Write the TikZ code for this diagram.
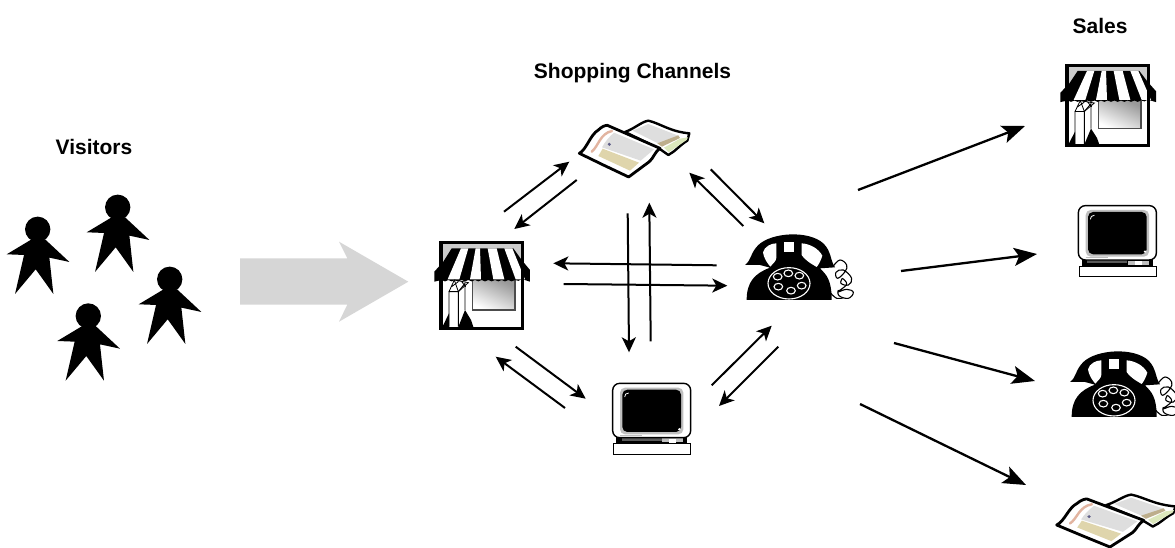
\documentclass[tikz,border=0pt]{standalone}
\usepackage{fontspec}
\setmainfont{Liberation Sans}
\usetikzlibrary{arrows.meta}
\definecolor{arrowgray}{HTML}{D6D6D6}
\definecolor{salmon}{HTML}{E2B4A0}
\definecolor{pagegray}{HTML}{DEDEDE}
\definecolor{tan}{HTML}{DFD5AC}
\definecolor{leaf}{HTML}{DCE8BC}
\definecolor{olive}{HTML}{BDAE8C}
\tikzset{
  hub/.style={line width=2pt,-{Stealth[length=15pt,width=14pt,inset=4pt]}},
  salesarrow/.style={line width=2.3pt,-{Stealth[length=23pt,width=18pt,inset=5pt]}},
  heading/.style={font=\bfseries\fontsize{21}{24}\selectfont,inner sep=0pt},
  personicon/.pic={
    \begin{scope}[x=.3333pt,y=-.3333pt]
      \fill[black] (0,0) circle[radius=38];
      \fill[black] (-93,75)--(-18,30)--(22,30)--(95,98)--(35,85)--(47,194)--(-6,120)--(-68,194)--(-41,77)--cycle;
    \end{scope}},
  storeicon/.pic={
    \begin{scope}[x=.3333pt,y=-.3333pt]
      \fill[white] (48,38) rectangle (292,295);
      \fill[black!20] (52,42) rectangle (288,120);
      \fill[white] (52,150) rectangle (288,291);
      \shade[top color=black!40,bottom color=white,shading angle=-25] (143,150) rectangle (270,240);
      \draw[black!70,line width=1.1pt] (143,150) -- (143,240) -- (270,240) -- (270,150);
      % awning base
      \fill[black] (80,55)--(265,55)--(290,90)--(315,120)--(315,155)--(290,147)
        \foreach \x in {270,250,230,210,190,170,150,130,110,90,70,50}{ to[bend left=45] (\x,150)} --(28,155)--(28,125)--(55,95)--cycle;
      % white stripes
      \foreach \a/\b/\c/\d in {108/130/68/103, 152/165/135/168, 188/215/205/238, 238/262/272/300}{
        \fill[white] (\a,55)--(\b,55)--(\d,148)--(\c,148)--cycle;
      }
      % bag
      \fill[white] (72,185)--(100,185)--(122,165)--(122,265)--(100,290)--(72,290)--cycle;
      \draw[black,line width=.9pt] (72,290)--(72,185)--(100,185)--(100,290) (100,185)--(120,160)--(120,240);
      \draw[black,line width=.8pt] (72,185)--(88,150)--(130,158)--(100,185) (88,150)--(100,185) (100,155)--(80,170) (110,155)--(122,170);
      \fill[black] (52,291)--(72,250)--(72,291)--cycle;
      \fill[black] (100,291)--(120,240)--(138,270)--(145,291)--cycle;
      \draw[black,line width=3.2pt] (48,38) rectangle (292,295);
    \end{scope}},
  phoneicon/.pic={
    \begin{scope}[x=.3333pt,y=-.3333pt]
      % cord
      \draw[black,line width=1.1pt] plot[smooth,tension=.7] coordinates {(296,122) (315,105) (335,120) (330,140) (308,160) (303,142) (325,135) (350,160) (340,180) (318,175) (322,160)};
      \draw[black,line width=1.1pt] plot[smooth,tension=.7] coordinates {(322,160) (335,178) (310,200) (335,193) (355,202) (340,220) (312,212) (310,195)};
      \draw[black,line width=1.1pt] plot[smooth,tension=.7] coordinates {(325,218) (305,220) (285,202)};
      % handset
      \fill[black] (30,120) .. controls (50,105) and (45,85) .. (70,60) .. controls (110,22) and (220,15) .. (265,55)
        .. controls (290,80) and (285,105) .. (300,127) -- (255,130) .. controls (275,150) and (290,165) .. (290,225)
        -- (35,225) .. controls (35,170) and (60,145) .. (105,128) -- (75,120) --cycle;
      \fill[white] (124,55) .. controls (108,55) and (88,65) .. (84,82) .. controls (87,100) and (95,112) .. (106,125) .. controls (114,115) and (124,108) .. (124,98) --cycle;
      \fill[white] (200,55) .. controls (225,57) and (250,70) .. (262,92) .. controls (258,105) and (252,118) .. (245,126) .. controls (225,115) and (205,100) .. (200,90)--cycle;
      \fill[white] (147,50) rectangle (178,80);
      % dial
      \draw[white,line width=1.1pt] (162,175) ellipse[x radius=63,y radius=47];
      \foreach \x/\y in {128/155,160/145,193/152,200/182,168/197,130/185}
        \draw[white,line width=1.1pt] (\x,\y) ellipse[x radius=13,y radius=10];
    \end{scope}},
  computericon/.pic={
    \begin{scope}[x=.3333pt,y=-.3333pt]
      \fill[black] (48,180) rectangle (262,205);
      \fill[black!65] (65,187) rectangle (185,198);
      \fill[black!25] (187,190) rectangle (250,202);
      \fill[white] (207,191) rectangle (228,203);
      \draw[black,line width=1.4pt,fill=white,rounded corners=7pt] (38,25) rectangle (272,188);
      \fill[black!25,rounded corners=5pt] (60,38) rectangle (250,178);
      \fill[black,rounded corners=5pt] (67,44) rectangle (243,171);
      \draw[white,line width=.8pt] (74,66) .. controls (74,58) and (78,55) .. (86,54);
      \fill[white] (238,163) circle[radius=4];
      \draw[black!25,line width=.8pt] (60,180) -- (127,180);
      \draw[black,line width=1pt,fill=white] (40,207) rectangle (273,238);
    \end{scope}},
  catalogicon/.pic={
    \begin{scope}[x=.3333pt,y=-.3333pt]
      % right page
      \draw[black,line width=2.4pt,fill=white,line join=round] (165,66) .. controls (195,55) and (215,35) .. (235,32) .. controls (270,40) and (300,65) .. (358,70) -- (352,92) .. controls (330,105) and (315,125) .. (295,135) -- (268,116) --cycle;
      \fill[pagegray] (188,62)--(235,42)--(327,78)--(270,103)--cycle;
      \fill[olive] (262,100)--(325,76)--(330,84)--(276,110)--cycle;
      \fill[leaf] (282,113)--(330,86)--(354,82)--(350,90)--(296,127)--cycle;
      % left page
      \draw[black,line width=2.8pt,fill=white,line join=round] (28,130) .. controls (50,118) and (60,75) .. (85,60) .. controls (95,50) and (105,46) .. (112,46) -- (270,115) .. controls (255,125) and (250,145) .. (238,155) -- (176,201) -- (100,165) --cycle;
      \fill[pagegray] (132,68)--(252,118)--(212,152)--(96,112) .. controls (105,95) and (118,80) .. (132,68) --cycle;
      \fill[tan] (98,116)--(207,158)--(180,182)--(85,138)--cycle;
      \draw[salmon,line width=2.4pt,line cap=round] (65,125) .. controls (85,110) and (90,70) .. (126,63);
      \fill[black!35!blue!25!gray] (118,103) circle[radius=5];
    \end{scope}}
}
\begin{document}
\begin{tikzpicture}[x=1pt,y=-1pt]
\path[use as bounding box,fill=white] (0,0) rectangle (1175,548);
\node[heading] (visitors) at (94,147) {Visitors};
\node[heading] (channels) at (632.5,73) {Shopping Channels};
\node[heading] (sales) at (1100,26) {Sales};

\pic (p1) at (37.7,229.3) {personicon};
\pic (p2) at (117.7,207.3) {personicon};
\pic (p3) at (169.7,279.3) {personicon};
\pic (p4) at (88.3,316) {personicon};

\fill[arrowgray] (240,258.3)--(347.3,258.3)--(339,241.7)--(408.3,281.7)--(339,321.7)--(347.3,304.7)--(240,304.7)--cycle;

\pic (store) at (425,230) {storeicon};
\pic (catalog) at (570,110) {catalogicon};
\pic (phone) at (735,225) {phoneicon};
\pic (computer) at (600,375) {computericon};

\pic[yscale=.935] (salesstore) at (1051,53.8) {storeicon};
\pic (salescomputer) at (1065.7,197.3) {computericon};
\pic (salesphone) at (1060,342) {phoneicon};
\pic[xscale=1.08,yscale=.93] (salescatalog) at (1046.6,484.7) {catalogicon};

\foreach \n/\x/\y in {a1/504/211.7,a2/569.3/161.7,b1/576.7/180,b2/514.3/229,c1/710.7/169.3,c2/764.3/223.3,d1/743.3/226,d2/689.3/172.7,
 e1/716.7/265.3,e2/553.3/263.3,f1/563.7/284,f2/727.3/285.7,g1/627.7/213.3,g2/629/352.3,h1/650.7/341.3,h2/649.3/202.7,
 i1/515.7/346.7,i2/585.7/398.7,j1/565/408,j2/495.7/356.7,k1/711.7/385.3,k2/771.7/325.7,l1/778.3/346.7,l2/719/406,
 m1/858/190,m2/1025/126,n1/901/271,n2/1037/254,o1/894/343,o2/1035/381,q1/860/404,q2/1026/485}
  \coordinate (\n) at (\x,\y);
\foreach \n in {a,b,c,d,e,f,g,h,i,j,k,l}
  \draw[hub] (\n1) -- (\n2);
\foreach \n in {m,n,o,q}
  \draw[salesarrow] (\n1) -- (\n2);
\end{tikzpicture}
\end{document}
